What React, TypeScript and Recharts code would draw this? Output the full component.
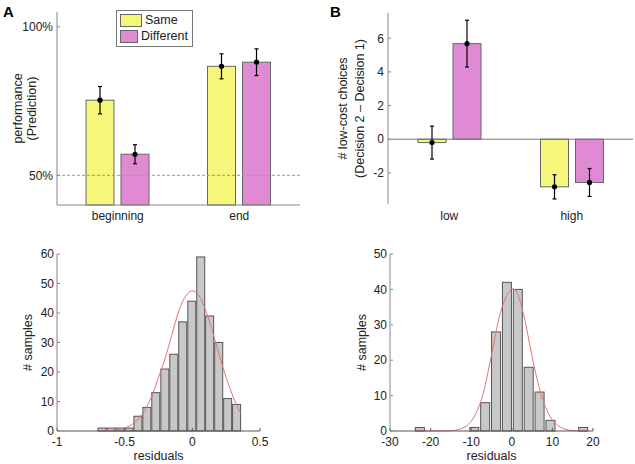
import React from "react";
import {
  Bar,
  BarChart,
  ComposedChart,
  ErrorBar,
  Label,
  Legend,
  Line,
  ReferenceLine,
  XAxis,
  YAxis,
} from "recharts";

const FONT = "'Liberation Sans', Arial, sans-serif";
const YELLOW = "#f6f67a";
const MAGENTA = "#e08ad4";
const EDGE = "#666";
const AXIS = "#888";

// panel A: performance (Prediction), %
const stages = ["beginning", "end"];
const perfSame = [75.3, 86.7];
const perfSameErr = [4.6, 4.2];
const perfDiff = [57.1, 88.1];
const perfDiffErr = [3.2, 4.5];

// panel B: # low-cost choices (Decision 2 - Decision 1)
const costLevels = ["low", "high"];
const choiceSame = [-0.2, -2.83];
const choiceSameErr = [0.98, 0.72];
const choiceDiff = [5.68, -2.57];
const choiceDiffErr = [1.39, 0.83];

// residual histogram, left
const residLeftBins = [-0.667, -0.601, -0.535, -0.468, -0.402, -0.336, -0.27, -0.203, -0.137, -0.071, -0.004, 0.062, 0.128, 0.195, 0.261, 0.327];
const residLeftCounts = [1, 1, 1, 1, 5, 8, 13, 21, 26, 37, 44, 59, 39, 30, 11, 9];
const fitLeftX = [-0.68, -0.62, -0.55, -0.5, -0.45, -0.4, -0.35, -0.3, -0.25, -0.2, -0.15, -0.1, -0.05, 0, 0.05, 0.1, 0.15, 0.2, 0.25, 0.3, 0.355];
const fitLeftY = [0.04, 0.13, 0.45, 1.0, 2.1, 4.0, 7.2, 11.8, 18.1, 24.8, 32.8, 40.7, 45.7, 47.5, 45.8, 40.7, 33.6, 25.6, 18.1, 11.8, 6.2];

// residual histogram, right
const residRightBins = [-22.64, -9.24, -6.56, -3.88, -1.2, 1.48, 4.16, 6.84, 9.52, 17.56];
const residRightCounts = [1, 1, 8, 28, 42, 40, 18, 11, 3, 1];
const fitRightX = [-23.5, -20, -17, -15, -13, -11, -9, -7, -5, -3, -1, 0.2, 1.5, 3, 5, 7, 9, 11, 13, 15, 18.5];
const fitRightY = [0, 0.001, 0.02, 0.1, 0.45, 1.6, 4.6, 10.8, 21.5, 32.5, 38.8, 40.2, 38.5, 32.5, 21.0, 11.2, 5.0, 1.9, 0.55, 0.13, 0.01];

const tick = { fontSize: 12, fill: "#222", fontFamily: FONT };
const labelStyle = { textAnchor: "middle" as const, fontSize: 12.5, fill: "#222", fontFamily: FONT };

const BarWithDot = (props: any) => {
  const { x, y, width, height, fill, value } = props;
  const v = Array.isArray(value) ? value[1] : value;
  const top = Math.min(y, y + height);
  const bottom = Math.max(y, y + height);
  return (
    <g>
      <rect x={x} y={top} width={width} height={bottom - top} fill={fill} stroke={EDGE} strokeWidth={1} />
      <circle cx={x + width / 2} cy={v < 0 ? bottom : top} r={2.6} fill="#000" />
    </g>
  );
};

// bars on a number axis come out with no band, so give them a fixed pixel width
const histBar = (w: number) => (props: any) => {
  const { x, y, width, height } = props;
  const cx = x + (width || 0) / 2;
  const top = Math.min(y, y + height);
  const h = Math.abs(height);
  return <rect x={cx - w / 2} y={top} width={w} height={h} fill="#c8c8c8" stroke="#555" strokeWidth={1} />;
};

const LegendBox = () => (
  <div
    style={{
      border: "1px solid #777",
      background: "#fff",
      padding: "2px 4px 1px 3px",
      fontSize: 12.5,
      fontFamily: FONT,
      lineHeight: "15px",
      color: "#222",
    }}
  >
    {[["Same", YELLOW], ["Different", MAGENTA]].map(([name, c]) => (
      <div key={name} style={{ display: "flex", alignItems: "center", marginBottom: 1 }}>
        <span
          style={{
            display: "inline-block",
            width: 20,
            height: 11,
            background: c,
            border: "1px solid #666",
            marginRight: 3,
          }}
        />
        {name}
      </div>
    ))}
  </div>
);

const panelLetter = (left: number, top: number, text: string) => (
  <div
    style={{
      position: "absolute",
      left,
      top,
      fontFamily: FONT,
      fontWeight: "bold",
      fontSize: 15,
      lineHeight: "15px",
      color: "#000",
    }}
  >
    {text}
  </div>
);

export default function App() {
  const perfData = stages.map((s, i) => ({
    stage: s,
    same: perfSame[i],
    sameErr: perfSameErr[i],
    diff: perfDiff[i],
    diffErr: perfDiffErr[i],
  }));
  const choiceData = costLevels.map((c, i) => ({
    level: c,
    same: choiceSame[i],
    sameErr: choiceSameErr[i],
    diff: choiceDiff[i],
    diffErr: choiceDiffErr[i],
  }));
  const histLeft = residLeftBins.map((x, i) => ({ x, count: residLeftCounts[i] }));
  const fitLeft = fitLeftX.map((x, i) => ({ x, y: fitLeftY[i] }));
  const histRight = residRightBins.map((x, i) => ({ x, count: residRightCounts[i] }));
  const fitRight = fitRightX.map((x, i) => ({ x, y: fitRightY[i] }));

  return (
    <div style={{ position: "absolute", left: 0, top: 0, width: 635, height: 464, background: "#fff", fontFamily: FONT }}>
      {panelLetter(3, 4, "A")}
      {panelLetter(330, 4, "B")}

      {/* panel A */}
      <div style={{ position: "absolute", left: 0, top: 0 }}>
        <BarChart
          width={320}
          height={230}
          data={perfData}
          margin={{ top: 12, right: 20, bottom: 0, left: 0 }}
          barSize={28}
          barGap={7}
        >
          <XAxis
            dataKey="stage"
            height={25}
            axisLine={{ stroke: AXIS }}
            tickLine={false}
            tickSize={0}
            tickMargin={6}
            tick={tick}
          />
          <YAxis
            width={57}
            domain={[40, 105]}
            ticks={[50, 100]}
            tickFormatter={(v) => `${v}%`}
            axisLine={{ stroke: AXIS }}
            tickLine={{ stroke: AXIS }}
            tickSize={-3}
            tickMargin={7}
            tick={tick}
          >
            <Label value="performance" angle={-90} position="insideLeft" offset={18} style={labelStyle} />
            <Label value="(Prediction)" angle={-90} position="insideLeft" offset={32} style={labelStyle} />
          </YAxis>
          <ReferenceLine y={50} stroke="#999" strokeDasharray="3 2" />
          <Legend
            layout="vertical"
            align="center"
            verticalAlign="middle"
            content={() => <LegendBox />}
            wrapperStyle={{ left: 116, top: 10, width: 77 }}
          />
          <Bar dataKey="same" name="Same" fill={YELLOW} shape={BarWithDot} isAnimationActive={false}>
            <ErrorBar dataKey="sameErr" width={2} stroke="#000" strokeWidth={1.2} />
          </Bar>
          <Bar dataKey="diff" name="Different" fill={MAGENTA} shape={BarWithDot} isAnimationActive={false}>
            <ErrorBar dataKey="diffErr" width={2} stroke="#000" strokeWidth={1.2} />
          </Bar>
        </BarChart>
      </div>

      {/* panel B */}
      <div style={{ position: "absolute", left: 320, top: 0 }}>
        <BarChart
          width={315}
          height={230}
          data={choiceData}
          margin={{ top: 13, right: 2, bottom: 0, left: 0 }}
          barSize={28}
          barGap={7}
        >
          <XAxis
            dataKey="level"
            height={26}
            axisLine={false}
            tickLine={false}
            tickSize={0}
            tickMargin={7}
            tick={tick}
          />
          <YAxis
            width={68}
            domain={[-3.85, 7.5]}
            ticks={[-2, 0, 2, 4, 6]}
            axisLine={{ stroke: AXIS }}
            tickLine={{ stroke: AXIS }}
            tickSize={-3}
            tickMargin={7}
            tick={tick}
          >
            <Label value="# low-cost choices" angle={-90} position="insideLeft" offset={23} style={labelStyle} />
            <Label value="(Decision 2 – Decision 1)" angle={-90} position="insideLeft" offset={40} style={labelStyle} />
          </YAxis>
          <ReferenceLine y={0} stroke="#777" />
          <Bar dataKey="same" fill={YELLOW} shape={BarWithDot} isAnimationActive={false}>
            <ErrorBar dataKey="sameErr" width={2} stroke="#000" strokeWidth={1.2} />
          </Bar>
          <Bar dataKey="diff" fill={MAGENTA} shape={BarWithDot} isAnimationActive={false}>
            <ErrorBar dataKey="diffErr" width={2} stroke="#000" strokeWidth={1.2} />
          </Bar>
        </BarChart>
      </div>

      {/* histogram left */}
      <div style={{ position: "absolute", left: 0, top: 230 }}>
        <ComposedChart
          width={320}
          height={234}
          data={histLeft}
          margin={{ top: 24, right: 60, bottom: 0, left: 0 }}
        >
          <XAxis
            dataKey="x"
            type="number"
            domain={[-1, 0.5]}
            ticks={[-1, -0.5, 0, 0.5]}
            allowDataOverflow
            height={33}
            axisLine={{ stroke: "#555" }}
            tickLine={{ stroke: "#555" }}
            tickSize={-3}
            tickMargin={9}
            tick={tick}
          >
            <Label value="residuals" position="insideBottom" offset={4} style={labelStyle} />
          </XAxis>
          <YAxis
            width={57}
            domain={[0, 60]}
            ticks={[0, 10, 20, 30, 40, 50, 60]}
            axisLine={{ stroke: AXIS }}
            tickLine={{ stroke: AXIS }}
            tickSize={-3}
            tickMargin={6}
            tick={tick}
          >
            <Label value="# samples" angle={-90} position="insideLeft" offset={28} style={labelStyle} />
          </YAxis>
          <Bar dataKey="count" shape={histBar(8)} isAnimationActive={false} />
          <Line
            data={fitLeft}
            dataKey="y"
            type="monotone"
            stroke="#e57373"
            strokeWidth={1}
            dot={false}
            isAnimationActive={false}
          />
        </ComposedChart>
      </div>

      {/* histogram right */}
      <div style={{ position: "absolute", left: 320, top: 230 }}>
        <ComposedChart
          width={315}
          height={234}
          data={histRight}
          margin={{ top: 24, right: 42, bottom: 0, left: 0 }}
        >
          <XAxis
            dataKey="x"
            type="number"
            domain={[-30, 20]}
            ticks={[-30, -20, -10, 0, 10, 20]}
            allowDataOverflow
            height={33}
            axisLine={{ stroke: "#555" }}
            tickLine={{ stroke: "#555" }}
            tickSize={-3}
            tickMargin={9}
            tick={tick}
          >
            <Label value="residuals" position="insideBottom" offset={4} style={labelStyle} />
          </XAxis>
          <YAxis
            width={70}
            domain={[0, 50]}
            ticks={[0, 10, 20, 30, 40, 50]}
            axisLine={{ stroke: AXIS }}
            tickLine={{ stroke: AXIS }}
            tickSize={-3}
            tickMargin={6}
            tick={tick}
          >
            <Label value="# samples" angle={-90} position="insideLeft" offset={42} style={labelStyle} />
          </YAxis>
          <Bar dataKey="count" shape={histBar(9)} isAnimationActive={false} />
          <Line
            data={fitRight}
            dataKey="y"
            type="monotone"
            stroke="#e57373"
            strokeWidth={1}
            dot={false}
            isAnimationActive={false}
          />
        </ComposedChart>
      </div>
    </div>
  );
}
